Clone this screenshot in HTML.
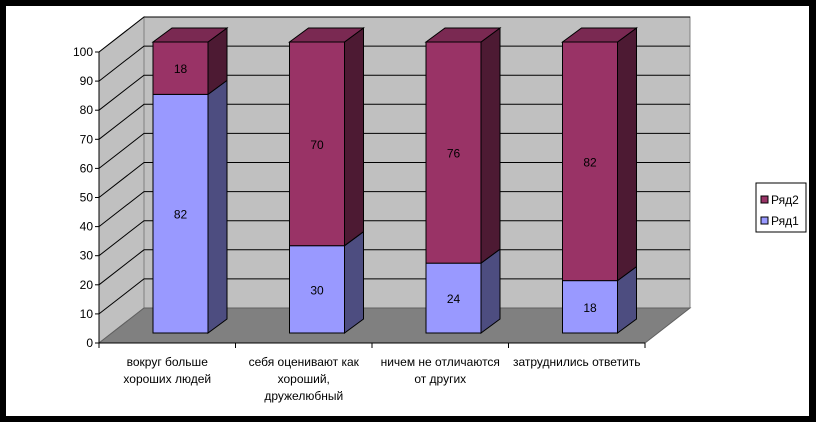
<!DOCTYPE html>
<html><head><meta charset="utf-8"><style>
html,body{margin:0;padding:0;background:#000;}
svg{display:block;font-family:"Liberation Sans",Arial,sans-serif;}
</style></head><body>
<svg id="chart" width="816" height="422" viewBox="0 0 816 422">
<rect x="6" y="6" width="803" height="410" fill="#fff"/>
<g id="g"></g>
</svg>
<script>
const categories = [["вокруг больше","хороших людей"],["себя оценивают как","хороший,","дружелюбный"],["ничем не отличаются","от других"],["затруднились ответить"]];
const series1 = [82, 30, 24, 18];
const series2 = [18, 70, 76, 82];
const ticks = [0,10,20,30,40,50,60,70,80,90,100];
const NS="http://www.w3.org/2000/svg";
const g=document.getElementById('g');
function mk(t,a,p){const e=document.createElementNS(NS,t);for(const k in a)e.setAttribute(k,a[k]);(p||g).appendChild(e);return e;}
// front axis
const yF=v=>343-v*2.91;
const DX=45, DY=-35;
const x0=99, catW=136.5;
const n=categories.length;
const xEnd=x0+catW*n;
// walls
let w=mk('polygon',{points:`${x0},${yF(100)} ${x0+DX},${yF(100)+DY} ${x0+DX},${yF(0)+DY} ${x0},${yF(0)}`,fill:'#c0c0c0',stroke:'#808080','stroke-width':1});


w=mk('rect',{x:x0+DX,y:yF(100)+DY,width:xEnd-x0,height:291,fill:'#c0c0c0',stroke:'#808080','stroke-width':1});


w=mk('polygon',{points:`${x0},${yF(0)} ${xEnd},${yF(0)} ${xEnd+DX},${yF(0)+DY} ${x0+DX},${yF(0)+DY}`,fill:'#808080',stroke:'#606060','stroke-width':1});


// gridlines + ticks
ticks.forEach(t=>{
  const y=yF(t);
  if(t>0){
    const l=mk('polyline',{points:`${x0},${y} ${x0+DX},${y+DY} ${xEnd+DX},${y+DY}`,fill:'none',stroke:'#000','stroke-width':1});
    
    
  }
  const tk=mk('line',{x1:x0-4,y1:y,x2:x0,y2:y,stroke:'#000'});
  
  
  const tx=mk('text',{x:x0-6,y:y+4,'text-anchor':'end','font-size':12,fill:'#000'});
  tx.textContent=t;
  
  
});
let ax=mk('line',{x1:x0,y1:yF(0),x2:x0,y2:yF(100),stroke:'#000'});


ax=mk('line',{x1:x0,y1:yF(0),x2:xEnd,y2:yF(0),stroke:'#000'});


for(let i=0;i<=n;i++){
  const t=mk('line',{x1:x0+catW*i,y1:yF(0),x2:x0+catW*i,y2:yF(0)+5,stroke:'#000'});
  
  
}
// bars
const yB=v=>333-v*2.91;
const bw=55, bdx=19, bdy=-14;
function seg(x,v0,v1,front,side,top,name,label,drawTop){
  const grp=mk('g',{});
  
  
  const ya=yB(v0), yb=yB(v1);
  mk('polygon',{points:`${x+bw},${yb} ${x+bw+bdx},${yb+bdy} ${x+bw+bdx},${ya+bdy} ${x+bw},${ya}`,fill:side,stroke:'#000','stroke-width':1},grp);
  if(drawTop) mk('polygon',{points:`${x},${yb} ${x+bdx},${yb+bdy} ${x+bw+bdx},${yb+bdy} ${x+bw},${yb}`,fill:top,stroke:'#000','stroke-width':1},grp);
  mk('rect',{x:x,y:yb,width:bw,height:ya-yb,fill:front,stroke:'#000','stroke-width':1},grp);
  const t=mk('text',{x:x+bw/2,y:(ya+yb)/2+5,'text-anchor':'middle','font-size':12,fill:'#000'},grp);
  t.textContent=label;
  
  
}
for(let i=0;i<n;i++){
  const x=153+catW*i;
  seg(x,0,series1[i],'#9999ff','#4d4d80','#7a7acc','bar-ryad1-'+(i+1),series1[i],false);
  seg(x,series1[i],series1[i]+series2[i],'#993366','#4d1a33','#7a2952','bar-ryad2-'+(i+1),series2[i],true);
  const cx=x0+catW*(i+0.5);
  categories[i].forEach((line,j)=>{
    const t=mk('text',{x:cx,y:366+j*17,'text-anchor':'middle','font-size':12,fill:'#000'});
    t.textContent=line;
    
    
  });
}
// legend
const lg=mk('g',{});


mk('rect',{x:756,y:183,width:50,height:49,fill:'#fff',stroke:'#000'},lg);
[['Ряд2','#993366',200],['Ряд1','#9999ff',221]].forEach(([nm,c,y])=>{
  const e=mk('g',{},lg);
  
  
  mk('rect',{x:761,y:y-4,width:7,height:7,fill:c,stroke:'#000'},e);
  const t=mk('text',{x:771,y:y+4,'font-size':12,fill:'#000'},e);
  t.textContent=nm;
});
</script>
</body></html>
